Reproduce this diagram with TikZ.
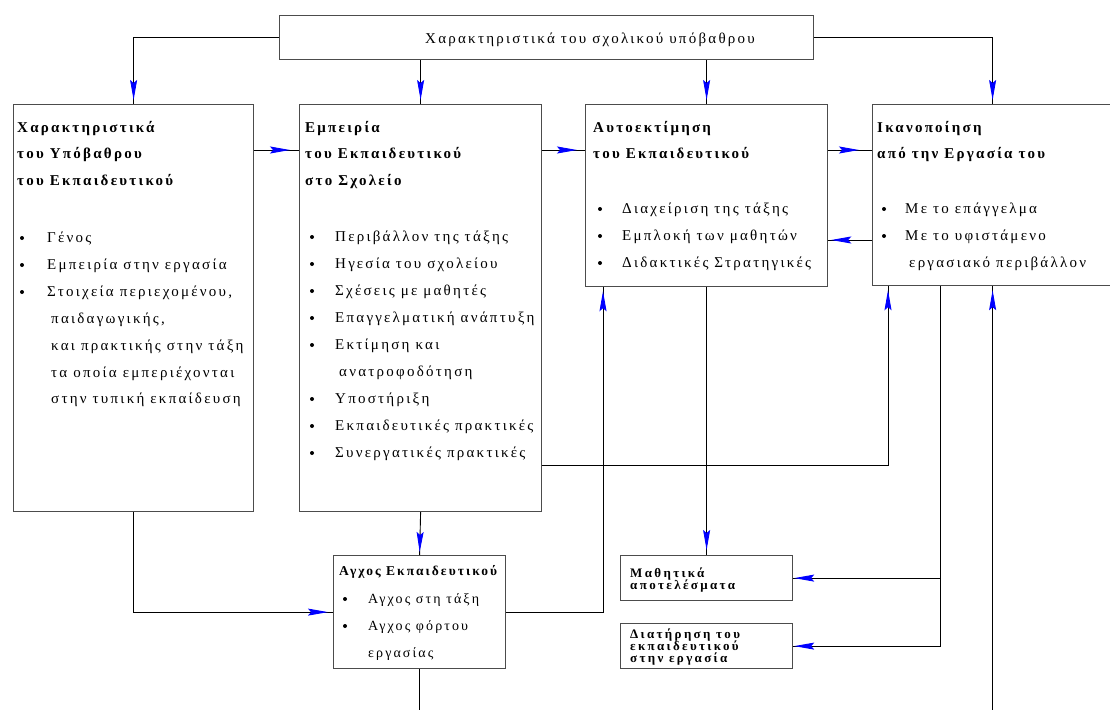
\documentclass[tikz,border=0pt]{standalone}
\usepackage{fontspec}
\setmainfont{Liberation Serif}
\newfontfamily\gr[LetterSpace=15]{Liberation Serif}
\newfontfamily\grs[LetterSpace=18]{Liberation Serif}
\usetikzlibrary{arrows.meta,decorations.markings,calc}
\tikzset{
  box/.style={draw=black!70, line width=1.2pt, inner sep=0pt, anchor=north west},
  conn/.style={draw=black, line width=0.9pt},
  arw/.style={conn, postaction={decorate}, decoration={markings, mark=at position -#1 with {\arrow{Stealth[length=20pt,width=7pt,inset=3pt,blue]}}}},
  arw/.default=4pt,
  txt/.style={anchor=base west, inner sep=0pt, font=\gr\fontsize{15}{17}\selectfont},
  atxt/.style={anchor=base west, inner sep=0pt, font=\gr\fontsize{14}{16}\selectfont},
  hdr/.style={anchor=base west, inner sep=0pt, font=\gr\bfseries\fontsize{15}{17}\selectfont},
  ahdr/.style={anchor=base west, inner sep=0pt, font=\gr\bfseries\fontsize{13.5}{16}\selectfont},
  sml/.style={anchor=base west, inner sep=0pt, font=\grs\bfseries\fontsize{13}{13}\selectfont},
}
\newcommand{\bul}[2]{\fill (#1,#2-4) circle (2pt);}
\begin{document}
\begin{tikzpicture}[x=1pt,y=-1pt]
\clip (0,0) rectangle (1110,709);
% boxes
\node[box, minimum width=534, minimum height=44] (t) at (279,15) {};
\node[box, minimum width=240, minimum height=407] (b1) at (13,104) {};
\node[box, minimum width=242, minimum height=407] (b2) at (299,104) {};
\node[box, minimum width=242, minimum height=182] (b3) at (585,104) {};
\node[box, minimum width=240, minimum height=181] (b4) at (872,104) {};
\node[box, minimum width=172, minimum height=113] (anx) at (333,555) {};
\node[box, minimum width=172, minimum height=45] (math) at (620,555) {};
\node[box, minimum width=172, minimum height=45] (ret) at (620,623) {};
% top title
\node[txt] (tt) at (425,44) {Χαρακτηριστικά του σχολικού υπόβαθρου};
% box 1
\node[hdr] (h11) at (17,132) {Χαρακτηριστικά};
\node[hdr] (h12) at (17,158) {του Υπόβαθρου};
\node[hdr] (h13) at (17,185) {του Εκπαιδευτικού};
\node[txt] (i11) at (47,242) {Γένος};
\node[txt] (i12) at (47,269) {Εμπειρία στην εργασία};
\node[txt] (i13) at (47,296) {Στοιχεία περιεχομένου,};
\node[txt] (i14) at (51,323) {παιδαγωγικής,};
\node[txt] (i15) at (51,350) {και πρακτικής στην τάξη};
\node[txt] (i16) at (51,377) {τα οποία εμπεριέχονται};
\node[txt] (i17) at (51,403) {στην τυπική εκπαίδευση};
\bul{22}{242}\bul{22}{269}\bul{22}{296}
% box 2
\node[hdr] (h21) at (305,132) {Εμπειρία};
\node[hdr] (h22) at (305,158) {του Εκπαιδευτικού};
\node[hdr] (h23) at (305,185) {στο Σχολείο};
\node[txt] (i21) at (335,241) {Περιβάλλον της τάξης};
\node[txt] (i22) at (335,268) {Ηγεσία του σχολείου};
\node[txt] (i23) at (335,295) {Σχέσεις με μαθητές};
\node[txt] (i24) at (335,322) {Επαγγελματική ανάπτυξη};
\node[txt] (i25) at (335,349) {Εκτίμηση και};
\node[txt] (i26) at (339,376) {ανατροφοδότηση};
\node[txt] (i27) at (335,403) {Υποστήριξη};
\node[txt] (i28) at (335,430) {Εκπαιδευτικές πρακτικές};
\node[txt] (i29) at (335,457) {Συνεργατικές πρακτικές};
\bul{312}{241}\bul{312}{268}\bul{312}{295}\bul{312}{322}\bul{312}{349}
\bul{312}{403}\bul{312}{430}\bul{312}{457}
% box 3
\node[hdr] (h31) at (593,132) {Αυτοεκτίμηση};
\node[hdr] (h32) at (593,158) {του Εκπαιδευτικού};
\node[txt] (i31) at (622,213) {Διαχείριση της τάξης};
\node[txt] (i32) at (622,240) {Εμπλοκή των μαθητών};
\node[txt] (i33) at (622,267) {Διδακτικές Στρατηγικές};
\bul{600}{213}\bul{600}{240}\bul{600}{267}
% box 4
\node[hdr] (h41) at (877,132) {Ικανοποίηση};
\node[hdr] (h42) at (877,158) {από την Εργασία του};
\node[txt] (i41) at (905,213) {Με το επάγγελμα};
\node[txt] (i42) at (905,240) {Με το υφιστάμενο};
\node[txt] (i43) at (909,267) {εργασιακό περιβάλλον};
\bul{884}{213}\bul{884}{240}
% anxiety box
\node[ahdr] (ha) at (339,575) {Αγχος Εκπαιδευτικού};
\node[atxt] (ia1) at (368,603) {Αγχος στη τάξη};
\node[atxt] (ia2) at (368,630) {Αγχος φόρτου};
\node[atxt] (ia3) at (368,657) {εργασίας};
\bul{345}{603}\bul{345}{630}
% small boxes
\node[sml] (m1) at (630,577) {Μαθητικά};
\node[sml] (m2) at (630,589) {αποτελέσματα};
\node[sml] (r1) at (630,638) {Διατήρηση του};
\node[sml] (r2) at (630,650) {εκπαιδευτικού};
\node[sml] (r3) at (630,662) {στην εργασία};
% coordinates
\coordinate (b3a) at ($(b3.south west)+(18,0)$);
\coordinate (b4a) at ($(b4.south west)+(68,0)$);
\coordinate (b4b) at ($(b4.south west)+(16,0)$);
\coordinate (b2r) at ($(b2.north east)+(0,361)$);
\coordinate (bot1) at ($(anx.south)+(0,45)$);
\coordinate (bot2) at ($(b4.south)+(0,430)$);
% connectors from top box
\draw[arw] (t.west) -| (b1.north);
\draw[arw] (t.south -| b2.north) -- (b2.north);
\draw[arw] (t.south -| b3.north) -- (b3.north);
\draw[arw] (t.east) -| (b4.north);
% horizontal between boxes
\draw[arw=9pt] ($(b1.north east)+(0,46)$) -- ($(b2.north west)+(0,46)$);
\draw[arw=8pt] ($(b2.north east)+(0,46)$) -- ($(b3.north west)+(0,46)$);
\draw[arw=13pt] ($(b3.north east)+(0,46)$) -- ($(b4.north west)+(0,46)$);
\draw[arw=3pt] ($(b4.north west)+(0,136)$) -- ($(b3.north east)+(0,136)$);
% lower connectors
\draw[arw=3pt] (b2.south) -- (anx.north);
\draw[arw=5pt] (b1.south) |- (anx.west);
\draw[arw] (anx.east) -| (b3a);
\draw[conn] (anx.south) -- (bot1);
\draw[arw] (b2r) -| (b4b);
\draw[arw=5pt] (b3.south) -- (math.north);
\draw[arw=1pt] (b4a) |- (ret.east);
\draw[arw=1pt] (math.east -| b4a) -- (math.east);
\draw[arw] (bot2) -- (b4.south);
\end{tikzpicture}
\end{document}
